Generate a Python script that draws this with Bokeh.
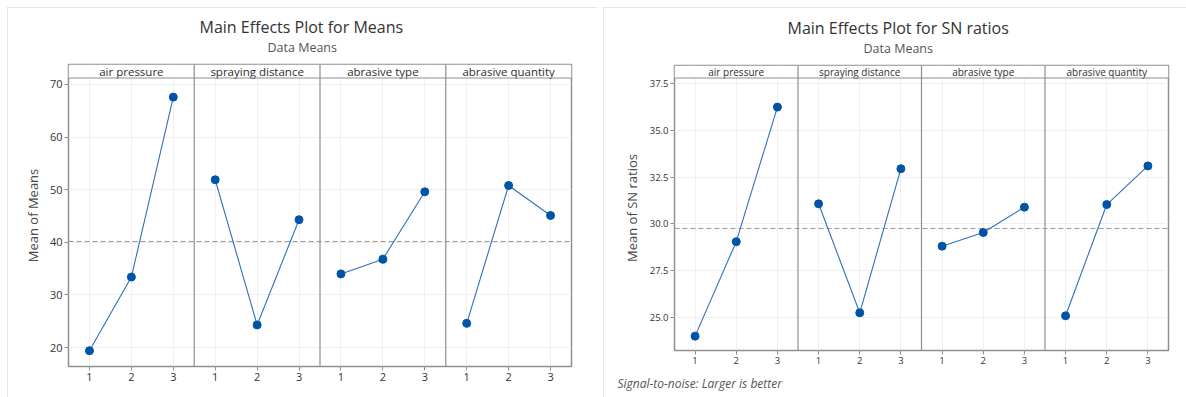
import numpy as np
from bokeh.plotting import figure
from bokeh.models import Range1d, FixedTicker, Span, Title, PrintfTickFormatter
from bokeh.layouts import row, column
from bokeh.embed import file_html
from bokeh.resources import INLINE
from bokeh.core.properties import value

# ---------------- data ----------------
factors = ["air pressure", "spraying distance", "abrasive type", "abrasive quantity"]
levels = [1, 2, 3]

means_air_pressure = [19.4, 33.4, 67.6]
means_spraying_distance = [51.9, 24.3, 44.3]
means_abrasive_type = [34.0, 36.8, 49.6]
means_abrasive_quantity = [24.6, 50.8, 45.1]

sn_air_pressure = [23.98, 29.04, 36.25]
sn_spraying_distance = [31.07, 25.23, 32.95]
sn_abrasive_type = [28.80, 29.53, 30.89]
sn_abrasive_quantity = [25.07, 31.03, 33.10]

means_yticks = [20, 30, 40, 50, 60, 70]
sn_yticks = [25.0, 27.5, 30.0, 32.5, 35.0, 37.5]

FONT = "Open Sans"
BLUE_LINE = "#2f6fba"
BLUE_DOT = "#0054a6"
FRAME_GRAY = "#8f8f8f"


def make_chart(title, subtitle, ylabel, series, yticks, ystart, yend, header_px,
               width, height, mb_left, mb_right, mb_top, mb_bottom,
               header_font, tick_font, ylabel_font, ylabel_standoff, yfmt, title_off, sub_off,
               margin, footnote=None):
    p = figure(width=width, height=height, output_backend="svg", toolbar_location=None,
               x_range=Range1d(0.5, 3 * len(factors) + 0.5),
               y_range=Range1d(ystart, yend),
               min_border_left=mb_left, min_border_right=mb_right,
               min_border_top=mb_top, min_border_bottom=mb_bottom,
               background_fill_color="white", border_fill_color="white")
    p.margin = margin
    p.outline_line_color = FRAME_GRAY
    p.outline_line_width = 1.5
    p.styles = {"outline": "1px solid #dedede", "outline-offset": "-1px"}

    frame_h = height - mb_top - mb_bottom
    header_bottom = yend - header_px * (yend - ystart) / frame_h

    p.xgrid.grid_line_color = "#efefef"
    p.ygrid.grid_line_color = "#efefef"

    # x axis
    xt = []
    overrides = {}
    for k in range(len(factors)):
        for lv in levels:
            xt.append(3 * k + lv)
            overrides[3 * k + lv] = str(lv)
    p.xaxis.ticker = FixedTicker(ticks=xt)
    p.xaxis.major_label_overrides = overrides
    p.xaxis.minor_tick_line_color = None
    p.xaxis.axis_line_color = None
    p.xaxis.major_tick_in = 0
    p.xaxis.major_tick_out = 4
    p.xaxis.major_tick_line_color = FRAME_GRAY
    p.xaxis.major_label_text_font = FONT
    p.xaxis.major_label_text_font_size = tick_font
    p.xaxis.major_label_text_color = "#333333"
    p.xaxis.major_label_standoff = 2

    # y axis
    p.yaxis.ticker = FixedTicker(ticks=yticks)
    p.yaxis.formatter = PrintfTickFormatter(format=yfmt)
    p.yaxis.minor_tick_line_color = None
    p.yaxis.axis_line_color = None
    p.yaxis.major_tick_in = 0
    p.yaxis.major_tick_out = 4
    p.yaxis.major_tick_line_color = FRAME_GRAY
    p.yaxis.major_label_text_font = FONT
    p.yaxis.major_label_text_font_size = tick_font
    p.yaxis.major_label_text_color = "#333333"
    p.yaxis.major_label_standoff = 2
    p.yaxis.axis_label = ylabel
    p.yaxis.axis_label_text_font = FONT
    p.yaxis.axis_label_text_font_style = "normal"
    p.yaxis.axis_label_text_font_size = ylabel_font
    p.yaxis.axis_label_text_color = "#4a4a4a"
    p.yaxis.axis_label_standoff = ylabel_standoff

    # header strip
    p.quad(left=[0.5], right=[3 * len(factors) + 0.5], bottom=[header_bottom], top=[yend],
           fill_color="white", line_color=None)
    p.text(x=[3 * k + 2 for k in range(len(factors))],
           y=[(header_bottom + yend) / 2] * len(factors),
           text=factors, text_align="center", text_baseline="middle",
           text_font=value(FONT), text_font_size=header_font, text_color="#2e2e2e")
    p.add_layout(Span(location=header_bottom, dimension="width",
                      line_color=FRAME_GRAY, line_width=1.2))

    # grand mean reference line
    grand = float(np.mean(np.concatenate([np.array(s) for s in series])))
    p.add_layout(Span(location=grand, dimension="width", line_color="#9a9a9a",
                      line_width=1.1, line_dash="5 3", level="underlay"))

    # data
    for k, s in enumerate(series):
        xs = [3 * k + lv for lv in levels]
        p.line(xs, s, line_color=BLUE_LINE, line_width=1.1)
        p.scatter(xs, s, size=8, fill_color=BLUE_DOT, line_color=BLUE_DOT)

    # panel separators
    for k in range(1, len(factors)):
        p.add_layout(Span(location=3 * k + 0.5, dimension="height",
                          line_color=FRAME_GRAY, line_width=1.2))

    # titles (subtitle first: nearest to the frame)
    p.title = None
    p.add_layout(Title(text=subtitle, align="left", offset=sub_off, standoff=18,
                       vertical_align="bottom",
                       text_font=FONT, text_font_size="12.5px", text_font_style="normal",
                       text_color="#555555"), "above")
    p.add_layout(Title(text=title, align="left", offset=title_off, standoff=-20,
                       vertical_align="bottom",
                       text_font=FONT, text_font_size="16px", text_font_style="normal",
                       text_color="#333333"), "above")
    if footnote is not None:
        f_off, ftxt = footnote
        p.add_layout(Title(text=ftxt, align="left", offset=f_off, standoff=12,
                           vertical_align="bottom",
                           text_font=FONT, text_font_size="12px", text_font_style="italic",
                           text_color="#555555"), "below")
    return p


p1 = make_chart("Main Effects Plot for Means", "Data Means", "Mean of Means",
                [means_air_pressure, means_spraying_distance, means_abrasive_type,
                 means_abrasive_quantity],
                means_yticks, 16.4, 73.8, 13.5,
                width=590, height=390, mb_left=61, mb_right=26, mb_top=57, mb_bottom=31,
                header_font="11.5px", tick_font="11px", ylabel_font="13px", ylabel_standoff=5,
                yfmt="%d", title_off=131, sub_off=199, margin=(7, 0, 0, 7))

p2 = make_chart("Main Effects Plot for SN ratios", "Data Means", "Mean of SN ratios",
                [sn_air_pressure, sn_spraying_distance, sn_abrasive_type,
                 sn_abrasive_quantity],
                sn_yticks, 23.21, 38.48, 12.5,
                width=583, height=390, mb_left=71, mb_right=18, mb_top=58, mb_bottom=47,
                header_font="10px", tick_font="9.5px", ylabel_font="13px", ylabel_standoff=6,
                yfmt="%.1f", title_off=113, sub_off=189, margin=(7, 0, 0, 6),
                footnote=(-57, "Signal-to-noise: Larger is better"))

layout = row(column(p1), column(p2))
open("out.html", "w").write(file_html(layout, INLINE))
